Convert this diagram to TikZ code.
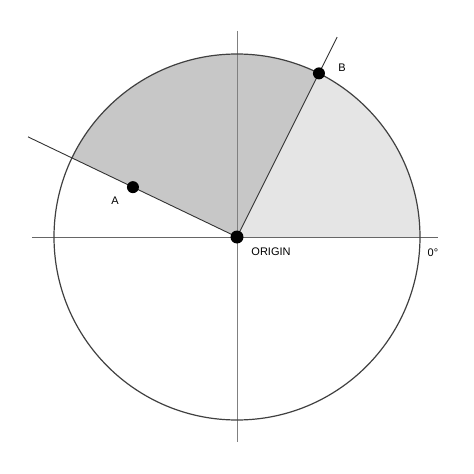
\documentclass[tikz,border=0pt]{standalone}
\usepackage{fontspec}
\setmainfont{Liberation Sans}
\usetikzlibrary{positioning}

\begin{document}
\begin{tikzpicture}[x=1pt,y=1pt,font=\fontsize{11}{13}\selectfont]
                \useasboundingbox (-237,-237) rectangle (237,237);
                % --------
                % Sectors
                % --------
                \fill[black!22] (0,0) -- (63.4:183) arc[start angle=63.4, end angle=154.4, radius=183] -- cycle;
                \fill[black!10] (0,0) -- (0:183) arc[start angle=0, end angle=63.4, radius=183] -- cycle;
                
                % Axes
                \coordinate (west) at (-205,0);
                \coordinate (east) at (201,0);
                \coordinate (north) at (0,206);
                \coordinate (south) at (0,-205);
                \draw[black!60, line width=0.8pt] (west) -- (east);
                \draw[black!50, line width=0.6pt] (north) -- (south);
                
                \draw[black!75, line width=1.2pt] (0,0) circle[radius=183];
                
                % Draw line
                \coordinate (o) at (0,0);
                \coordinate (a) at (154.4:115.4);
                \coordinate (b) at (63.4:183);
                \coordinate (endA) at (154.4:231.7);
                \coordinate (endB) at (63.4:223.6);
                \draw[black!80, line width=0.9pt] (o) -- (endA);
                \draw[black!80, line width=0.9pt] (o) -- (endB);
                
                % Points
                \node[circle, fill=black, inner sep=0, minimum size=13] at (o) (origin) {};
                \node[circle, fill=black, inner sep=0, minimum size=12] at (a) (pointA) {};
                \node[circle, fill=black, inner sep=0, minimum size=12] at (b) (pointB) {};
                
                \node at (34,-15) (textOrigin) {ORIGIN};
                \node at (-122,36) (textA) {A};
                \node at (105,169) (textB) {B};
                \node at (196,-16) (textZero) {0°};
            \end{tikzpicture}
\end{document}
